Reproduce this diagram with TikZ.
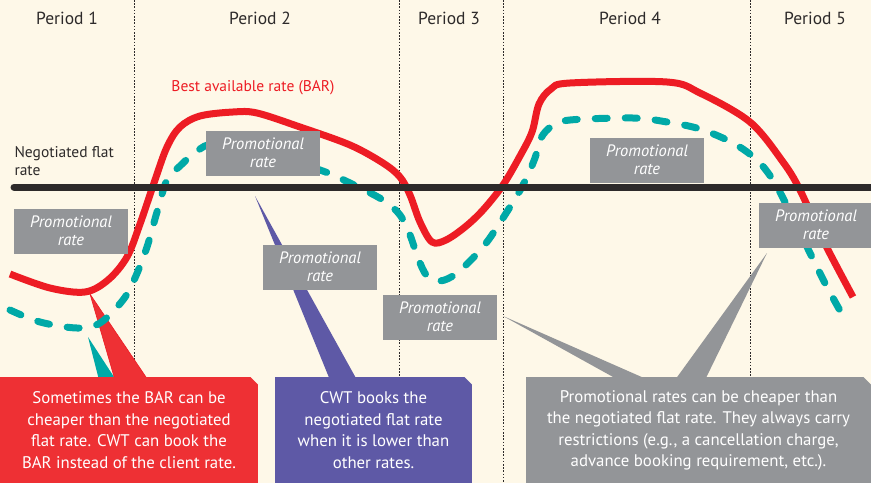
\documentclass[tikz,border=0pt]{standalone}
\usepackage{fontspec}
\setmainfont{PT Sans}
\usepackage{tikz}
\usetikzlibrary{shapes.geometric}
\usetikzlibrary{positioning,calc}
\definecolor{cream}{RGB}{254,248,232}
\definecolor{barred}{RGB}{237,28,36}
\definecolor{boxred}{RGB}{238,48,52}
\definecolor{promoteal}{RGB}{0,169,167}
\definecolor{promogray}{RGB}{147,149,152}
\definecolor{cwtpurple}{RGB}{94,89,166}
\definecolor{inkgray}{RGB}{45,42,42}

\begin{document}
\begin{tikzpicture}[x=1pt,y=-1pt,
	promo/.style={fill=promogray,text=white,minimum width=114pt,minimum height=45pt,
	inner sep=0pt,align=center,font=\fontsize{16.5}{18}\selectfont\itshape},
	period/.style={text=inkgray,font=\fontsize{17.5}{19}\selectfont},
	note/.style={minimum height=106pt,inner sep=0pt,text=white,align=center,
	font=\fontsize{16.8}{21.5}\selectfont},
	divider/.style={inkgray,line width=0.9pt,dash pattern=on 1.6pt off 1.6pt}]
\fill[cream] (0,0) rectangle (871,483);
\useasboundingbox (0,0) rectangle (871,483);
\foreach \x in {134,399,503,750}
	\draw[divider] (\x,0) -- (\x,483);
\node[period] (p1) at (67,18) {Period 1};
\node[period] (p2) at (260,18) {Period 2};
\node[period] (p3) at (449,18) {Period 3};
\node[period] (p4) at (630,18) {Period 4};
\node[period] (p5) at (815,18) {Period 5};
\coordinate (bartip) at (90,294);
\coordinate (tealtip) at (88,337);
\coordinate (flattip) at (255,196);
\coordinate (promotipA) at (503,316);
\coordinate (promotipB) at (767,253);
\coordinate (barnote) at (129,377);
\coordinate (cwtnote) at (373.5,377);
\coordinate (promonote) at (698.5,377);
\fill[promoteal] (tealtip) -- ([xshift=-30pt,yshift=-3pt]barnote) -- ([xshift=-13pt,yshift=-3pt]barnote) -- cycle;
\filldraw[fill=boxred,draw=barred,line width=0.6pt] (bartip) -- ([xshift=-14pt,yshift=-3pt]barnote) -- ([xshift=19pt,yshift=-3pt]barnote) -- cycle;
\fill[cwtpurple] (flattip) -- ([xshift=-43.5pt,yshift=-3pt]cwtnote) -- ([xshift=-16.5pt,yshift=-3pt]cwtnote) -- cycle;
\fill[promogray] (promotipA) -- ([xshift=-80pt,yshift=-3pt]promonote) -- ([xshift=-50pt,yshift=-3pt]promonote) -- cycle;
\fill[promogray] (promotipB) -- ([xshift=-23.5pt,yshift=-3pt]promonote) -- ([xshift=6.5pt,yshift=-3pt]promonote) -- cycle;
\draw[promoteal,line width=7pt,line cap=round,dash pattern=on 12pt off 18pt] plot[smooth,tension=0.55] coordinates {
	(10,310) (40,322) (77,328) (100,323) (123,300) (135,278) (147,247) (157,212) (167,180)
	(180,166) (197,151) (215,144) (260,152) (320,170) (350,183) (383,200) (400,215) (410,235)
	(418,258) (427,276) (440,281) (457,273) (483,247) (503,218) (523,185) (535,158) (541,138)
	(552,126) (570,120) (633,118) (667,122) (700,129) (733,143) (757,160) (773,180) (785,202)
	(810,253) (827,287) (847,323)};
\draw[barred,line width=7pt] plot[smooth,tension=0.55] coordinates {
	(10,274) (50,288) (85,292) (108,280) (127,257) (140,224) (155,180) (167,147) (180,127)
	(200,116) (233,112) (257,113) (300,127) (350,145) (383,163) (400,177) (410,195) (420,222)
	(432,242) (446,240) (465,227) (483,210) (503,185) (520,156) (532,132) (539,104) (551,89)
	(570,83) (667,82) (700,93) (750,122) (783,162) (800,190) (823,240) (853,297)};
\draw[inkgray,line width=7pt,line cap=round] (14,187) -- (880,187);
\node[anchor=west,align=left,text=inkgray,font=\fontsize{15.5}{18}\selectfont] (flatlabel) at (11,161) {Negotiated flat\\rate};
\node[text=barred,font=\fontsize{15.5}{18}\selectfont] (barlabel) at (253,88) {Best available rate (BAR)};
\node[promo] (promo1) at (71,231) {Promotional\\rate};
\node[promo] (promo2) at (263,153) {Promotional\\rate};
\node[promo] (promo3) at (320,267) {Promotional\\rate};
\node[promo] (promo4) at (440,317) {Promotional\\rate};
\node[promo] (promo5) at (647,160) {Promotional\\rate};
\node[promo] (promo6) at (816,225) {Promotional\\rate};
\node[note,fill=boxred,minimum width=258pt,anchor=north] (bartext) at (barnote) {Sometimes the BAR can be\\cheaper than the negotiated\\flat rate. CWT can book the\\BAR instead of the client rate.};
\node[note,fill=cwtpurple,minimum width=197pt,anchor=north] (cwttext) at (cwtnote) {CWT books the\\negotiated flat rate\\when it is lower than\\other rates.};
\node[note,fill=promogray,minimum width=345pt,anchor=north] (promotext) at (promonote) {Promotional rates can be cheaper than\\the negotiated flat rate. They always carry\\restrictions (e.g., a cancellation charge,\\advance booking requirement, etc.).};
\foreach \n in {bartext,cwttext,promotext}
	\fill[cream] ([xshift=0.5pt,yshift=0.5pt]\n.north east) -- ++(-8.5,0) -- ++(8.5,8.5) -- cycle;
\end{tikzpicture}
\end{document}
